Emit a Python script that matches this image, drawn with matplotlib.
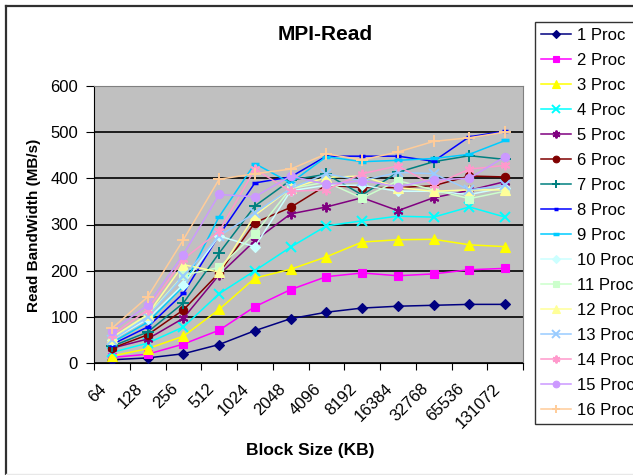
import numpy as np
import matplotlib.pyplot as plt
import matplotlib.transforms as mtransforms
from matplotlib.lines import Line2D

plt.rcParams['font.family'] = ['Liberation Sans', 'DejaVu Sans']

block_sizes = ['64', '128', '256', '512', '1024', '2048', '4096', '8192',
               '16384', '32768', '65536', '131072']

# read bandwidth (MB/s) per process count
bw = {
    '1 Proc':  [7, 11, 20, 40, 70, 96, 110, 119, 123, 125, 127, 127],
    '2 Proc':  [12, 19, 41, 71, 122, 159, 187, 195, 189, 193, 202, 205],
    '3 Proc':  [15, 31, 58, 116, 184, 203, 230, 262, 267, 268, 256, 252],
    '4 Proc':  [23, 43, 78, 150, 200, 251, 297, 308, 318, 316, 338, 316],
    '5 Proc':  [32, 52, 97, 191, 265, 323, 338, 358, 330, 358, 374, 393],
    '6 Proc':  [32, 61, 115, 195, 304, 337, 385, 380, 380, 384, 405, 403],
    '7 Proc':  [36, 67, 130, 238, 340, 396, 409, 364, 413, 436, 449, 441],
    '8 Proc':  [40, 78, 151, 277, 390, 403, 448, 448, 448, 437, 490, 502],
    '9 Proc':  [44, 88, 166, 317, 432, 390, 447, 436, 439, 443, 452, 482],
    '10 Proc': [50, 95, 170, 275, 252, 373, 385, 385, 372, 372, 365, 380],
    '11 Proc': [50, 103, 190, 207, 280, 378, 392, 357, 395, 375, 356, 372],
    '12 Proc': [55, 105, 213, 197, 320, 378, 402, 405, 380, 372, 375, 375],
    '13 Proc': [50, 100, 188, 275, 325, 378, 410, 395, 413, 410, 375, 385],
    '14 Proc': [60, 115, 225, 285, 420, 372, 375, 410, 427, 385, 420, 428],
    '15 Proc': [70, 125, 235, 365, 360, 405, 387, 395, 382, 397, 400, 447],
    '16 Proc': [75, 143, 267, 398, 410, 420, 453, 440, 457, 480, 488, 500],
}

colors = ['#000080', '#FF00FF', '#FFFF00', '#00FFFF', '#800080', '#800000',
          '#008080', '#0000FF', '#00CCFF', '#CCFFFF', '#CCFFCC', '#FFFF99',
          '#99CCFF', '#FF99CC', '#CC99FF', '#FFCC99']
asterisk = (6, 2, 0)
markers = ['D', 's', '^', 'x', asterisk, 'o', '+', '_',
           '_', 'D', 's', '^', 'x', asterisk, 'o', '+']
msizes = [5, 6, 7, 7, 7, 6, 8, 4,
          6, 5, 6, 7, 7, 7, 6, 8]

fig = plt.figure(figsize=(6.33, 4.75), dpi=100)

# outer chart border: dark left/top edges, faint bottom edge
W, H = 633, 475
fig.add_artist(Line2D([5.5 / W, 5.5 / W], [1 - 6 / H, 0], color='#303030', lw=1.6))
fig.add_artist(Line2D([5.5 / W, 1], [1 - 6 / H, 1 - 6 / H], color='#303030', lw=1.6))
fig.add_artist(Line2D([5.5 / W, 1], [1 - 474 / H, 1 - 474 / H], color='#E8E8E8', lw=1.0))

ax = fig.add_axes([94 / W, 1 - 363 / H, 429 / W, 277 / H])
ax.set_facecolor('#C0C0C0')

x = np.arange(len(block_sizes))
for (name, vals), c, m, ms in zip(bw.items(), colors, markers, msizes):
    ax.plot(x, vals, color=c, marker=m, markersize=ms, lw=1.1,
            markeredgewidth=2.5 if m == '_' else (1.4 if m in ('x', '+', asterisk) else 0.8),
            markeredgecolor=c, label=name, zorder=3)

ax.set_xlim(-0.5, len(block_sizes) - 0.5)
ax.set_ylim(0, 600)
ax.set_yticks(range(0, 601, 100))
ax.yaxis.grid(True, color='black', lw=1.2, zorder=1)
ax.set_axisbelow(True)
ax.tick_params(axis='y', labelsize=12, length=6, direction='out', pad=5.5)

# category boundaries carry the tick marks, labels sit under the centres
ax.set_xticks(np.arange(-0.5, len(block_sizes), 1.0))
ax.set_xticklabels([])
ax.tick_params(axis='x', length=5, direction='out')
offset = mtransforms.ScaledTranslation(-13 / 100, -18 / 100, fig.dpi_scale_trans)
for xi, lab in zip(x, block_sizes):
    ax.text(xi, 0, lab, rotation=45, ha='right', va='top', fontsize=12,
            rotation_mode='anchor',
            transform=ax.get_xaxis_transform() + offset)

for side in ('top', 'right'):
    ax.spines[side].set_color('#808080')
ax.spines['left'].set_color('black')
ax.spines['bottom'].set_color('black')

fig.text(34 / W, 1 - 225 / H, 'Read BandWidth (MB/s)', rotation=90,
         ha='center', va='center', fontsize=11, fontweight='bold')
fig.text(310 / W, 1 - 450 / H, 'Block Size (KB)', ha='center', va='center',
         fontsize=12.5, fontweight='bold')
fig.text(325 / W, 1 - 35 / H, 'MPI-Read', ha='center', va='center',
         fontsize=15, fontweight='bold')

leg = ax.legend(loc='upper left', bbox_to_anchor=(535 / W, 1 - 22 / H),
                bbox_transform=fig.transFigure, borderaxespad=0, fontsize=12,
                frameon=True, fancybox=False, edgecolor='black',
                handlelength=1.8, handletextpad=0.35, labelspacing=0.6,
                borderpad=0.35, markerscale=0.8)
leg.get_frame().set_linewidth(1.0)
leg.get_frame().set_facecolor('white')

fig.savefig('out.png', dpi=100)
